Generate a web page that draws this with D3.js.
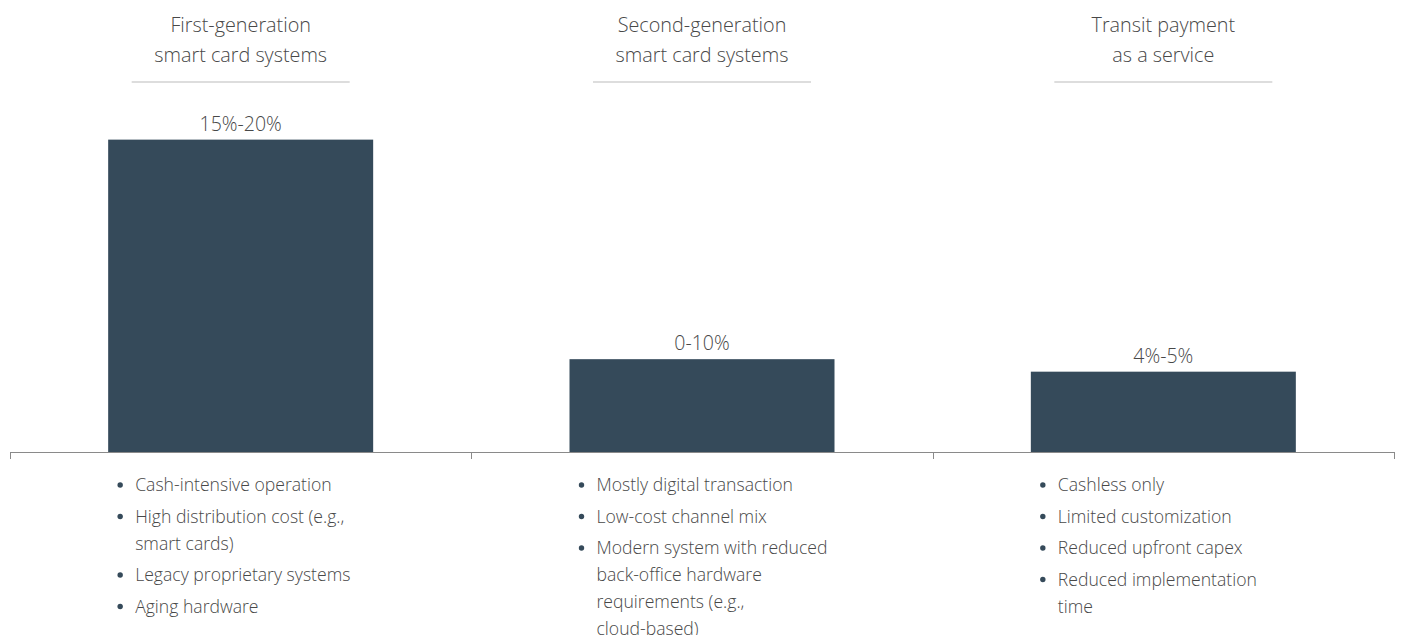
<!DOCTYPE html>
<html>
<head>
<meta charset="utf-8">
<script src="https://cdn.jsdelivr.net/npm/d3@7"></script>
<style>
  body { margin: 0; background: #fff; }
  text { font-family: "Open Sans", "Noto Sans", sans-serif; font-weight: 300; }
</style>
</head>
<body>
<div class="chart"></div>
<script>
var categories = ["first", "second", "service"];
var headers = [
  ["First-generation", "smart card systems"],
  ["Second-generation", "smart card systems"],
  ["Transit payment", "as a service"]
];
var values = [17.5, 5.2, 4.5];
var valueLabels = ["15%-20%", "0-10%", "4%-5%"];
var bullets = [
  [["Cash-intensive operation"], ["High distribution cost (e.g.,", "smart cards)"], ["Legacy proprietary systems"], ["Aging hardware"]],
  [["Mostly digital transaction"], ["Low-cost channel mix"], ["Modern system with reduced", "back-office hardware", "requirements (e.g.,", "cloud-based)"]],
  [["Cashless only"], ["Limited customization"], ["Reduced upfront capex"], ["Reduced implementation", "time"]]
];

var w = 1402, h = 635;
var baseY = 452;
var barColor = "#354a5a";
var textColor = "#484848";

var svg = d3.select(".chart").append("svg")
    .attr("width", w)
    .attr("height", h);

var x = d3.scaleBand()
    .domain(categories)
    .range([10, 1394])
    .paddingInner(0)
    .paddingOuter(0);

var y = d3.scaleLinear()
    .domain([0, 20])
    .range([baseY, 95]);

var barW = 265;

// headers
var head = svg.selectAll("g.head").data(categories).enter().append("g")
    .attr("class", "head")
    .attr("transform", function(d) { return "translate(" + (x(d) + x.bandwidth() / 2) + ",0)"; });

head.each(function(d, i) {
  var g = d3.select(this);
  g.selectAll("text").data(headers[i]).enter().append("text")
      .attr("text-anchor", "middle")
      .attr("y", function(t, j) { return 32 + j * 30; })
      .attr("font-size", 19.8)
      .attr("fill", textColor)
      .text(function(t) { return t; });
  g.append("line")
      .attr("x1", -109).attr("x2", 109)
      .attr("y1", 82).attr("y2", 82)
      .attr("stroke", "#dddddd")
      .attr("stroke-width", 2);
});

// bars
svg.selectAll("rect.bar").data(values).enter().append("rect")
    .attr("class", "bar")
    .attr("x", function(d, i) { return x(categories[i]) + (x.bandwidth() - barW) / 2; })
    .attr("width", barW)
    .attr("y", function(d) { return y(d); })
    .attr("height", function(d) { return baseY - y(d); })
    .attr("fill", barColor);

svg.selectAll("text.val").data(values).enter().append("text")
    .attr("class", "val")
    .attr("text-anchor", "middle")
    .attr("x", function(d, i) { return x(categories[i]) + x.bandwidth() / 2; })
    .attr("y", function(d) { return y(d) - 9; })
    .attr("font-size", 19.5)
    .attr("fill", textColor)
    .text(function(d, i) { return valueLabels[i]; });

// axis line with ticks at band edges
svg.append("line")
    .attr("x1", 10).attr("x2", 1394)
    .attr("y1", baseY + 0.5).attr("y2", baseY + 0.5)
    .attr("stroke", "#8a8a8a")
    .attr("stroke-width", 1);

var edges = categories.map(function(c) { return x(c); }).concat([x.range()[1]]);
svg.selectAll("line.tick").data(edges).enter().append("line")
    .attr("class", "tick")
    .attr("x1", function(d) { return Math.round(d) + 0.5; })
    .attr("x2", function(d) { return Math.round(d) + 0.5; })
    .attr("y1", baseY).attr("y2", baseY + 7)
    .attr("stroke", "#8a8a8a");

// bullet lists
categories.forEach(function(c, i) {
  var left = x(c) + (x.bandwidth() - barW) / 2 + 27;
  var g = svg.append("g").attr("transform", "translate(" + left + ",0)");
  var yy = 491;
  bullets[i].forEach(function(item) {
    g.append("circle")
        .attr("cx", -15).attr("cy", yy - 6)
        .attr("r", 2.7)
        .attr("fill", barColor);
    item.forEach(function(line, k) {
      g.append("text")
          .attr("x", 0)
          .attr("y", yy)
          .attr("font-size", 17.6)
          .attr("fill", textColor)
          .text(line);
      yy += (k < item.length - 1) ? 27 : 31.5;
    });
  });
});
</script>
</body>
</html>
